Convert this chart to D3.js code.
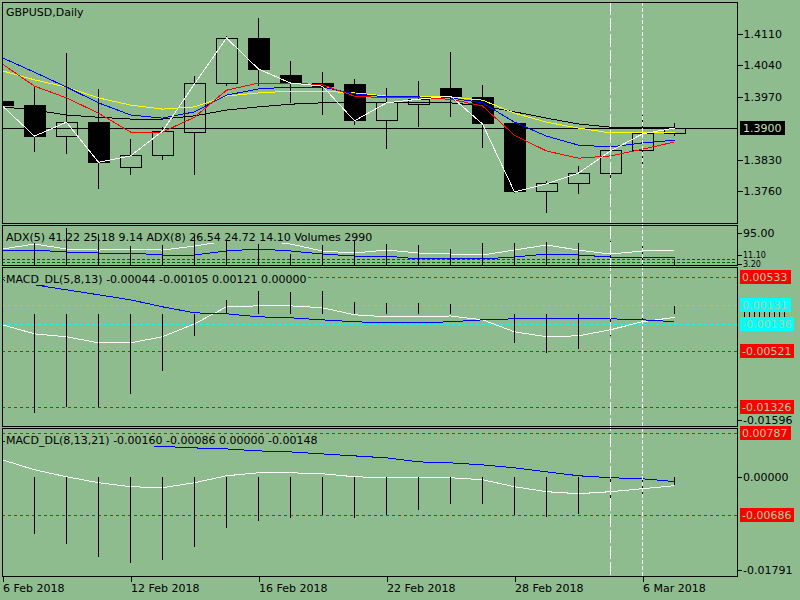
<!DOCTYPE html>
<html>
<head>
<meta charset="utf-8">
<title>GBPUSD,Daily</title>
<script src="https://d3js.org/d3.v7.min.js"></script>
<style>
  body { margin: 0; background: #8FBC8F; }
  svg { display: block; font-family: "DejaVu Sans", sans-serif; font-size: 11px; }
</style>
</head>
<body>
<div id="chart"></div>
<script>
// ---- data ----
const dates = ["2018-02-06","2018-02-07","2018-02-08","2018-02-09","2018-02-12","2018-02-13",
  "2018-02-14","2018-02-15","2018-02-16","2018-02-19","2018-02-20","2018-02-21","2018-02-22",
  "2018-02-23","2018-02-26","2018-02-27","2018-02-28","2018-03-01","2018-03-02","2018-03-05",
  "2018-03-06","2018-03-07"];
const dateTicks = ["2018-02-06","2018-02-12","2018-02-16","2018-02-22","2018-02-28","2018-03-06"];
const markerDates = ["2018-03-05","2018-03-06"];

const openP  = [1.3960,1.3949,1.3882,1.3913,1.3813,1.3838,1.3891,1.3998,1.4100,1.4016,1.4000,
                1.3996,1.3916,1.3953,1.3987,1.3967,1.3911,1.3760,1.3776,1.3798,1.3851,1.3887];
const highP  = [1.3965,1.3993,1.4067,1.3987,1.3876,1.3902,1.4016,1.4104,1.4144,1.4049,1.4024,
                1.4009,1.3989,1.4004,1.4069,1.3996,1.3911,1.3782,1.3816,1.3860,1.3929,1.3911];
const lowP   = [1.3944,1.3847,1.3842,1.3764,1.3796,1.3829,1.3796,1.3993,1.3993,1.3956,1.3929,
                1.3907,1.3853,1.3902,1.3924,1.3856,1.3756,1.3711,1.3753,1.3764,1.3813,1.3882];
const closeP = [1.3949,1.3882,1.3913,1.3824,1.3838,1.3893,1.3998,1.4100,1.4031,1.4000,1.3993,
                1.3916,1.3956,1.3964,1.3971,1.3909,1.3758,1.3776,1.3800,1.3849,1.3887,1.3900];

const maRed    = [1.4042,1.3993,1.3967,1.3933,1.3891,1.3891,1.3924,1.3984,1.4000,1.4000,1.3996,
                  1.3971,1.3967,1.3967,1.3964,1.3949,1.3884,1.3849,1.3833,1.3838,1.3853,1.3869];
const maBlue   = [1.4056,1.4024,1.3991,1.3956,1.3929,1.3922,1.3936,1.3973,1.3987,1.3991,1.3991,
                  1.3976,1.3969,1.3969,1.3967,1.3956,1.3913,1.3882,1.3862,1.3858,1.3867,1.3873];
const maYellow = [1.4027,1.4007,1.3991,1.3967,1.3951,1.3942,1.3947,1.3971,1.3978,1.3982,1.3982,
                  1.3978,1.3971,1.3971,1.3969,1.3962,1.3933,1.3913,1.3900,1.3889,1.3889,1.3889];
const maBlack  = [1.3947,1.3940,1.3929,1.3924,1.3920,1.3920,1.3927,1.3940,1.3947,1.3953,1.3956,
                  1.3956,1.3956,1.3956,1.3956,1.3949,1.3936,1.3922,1.3909,1.3902,1.3902,1.3902];
const priceTicks = [1.4110, 1.4040, 1.3970, 1.3830, 1.3760];

const volumes  = [12000,13150,22100,18500,11350,11950,17900,14350,12550,6600,11950,
                  14300,12550,11950,9550,13150,13150,13750,13150,14350,11350,2990];
const adxMain  = [44.3,60.1,44.3,41.0,44.3,41.0,53.8,69.6,72.7,60.1,38.0,
                  31.6,41.0,31.6,28.5,25.3,41.0,57.0,41.0,28.5,38.0,41.2];
const adxOther = [41.0,41.0,34.8,31.6,31.6,25.3,25.3,38.0,44.3,38.0,28.5,
                  22.1,22.1,12.7,12.7,12.7,19.0,28.5,25.3,19.0,19.0,19.0];
const adxLevels = [11.1, 3.2];
const adxTicks = [95];

const m1Main   = [-0.00150,-0.00279,-0.00321,-0.00407,-0.00407,-0.00321,-0.00136,0.00107,0.00121,0.00121,0.00093,
                  -0.00007,-0.00036,-0.00036,-0.00024,-0.00079,-0.00250,-0.00321,-0.00307,-0.00221,-0.00106,-0.00044];
const m1Signal = [0.00493,0.00421,0.00350,0.00279,0.00207,0.00107,0.00021,0.00007,-0.00036,-0.00050,-0.00079,
                  -0.00107,-0.00121,-0.00121,-0.00107,-0.00079,-0.00064,-0.00064,-0.00064,-0.00064,-0.00079,-0.00105];
const m1Hist   = [-0.01290,-0.01407,-0.01321,-0.01321,-0.01136,-0.00807,-0.00307,0.00207,0.00336,0.00321,0.00336,
                  0.00179,0.00164,0.00164,0.00150,0.00000,-0.00407,-0.00550,-0.00493,-0.00307,-0.00060,0.00121];
const m1RedLevels  = [0.00533, -0.00521, -0.01326];
const m1CyanLevels = [0.00131, -0.00136];
const m1Range = [-0.01596, 0.00533];

const m2Main   = [0.00307,0.00128,0.00002,-0.00106,-0.00178,-0.00196,-0.00106,0.00020,0.00074,0.00074,0.00056,
                  0.00002,-0.00016,-0.00016,-0.00016,-0.00052,-0.00178,-0.00268,-0.00304,-0.00268,-0.00214,-0.00160];
const m2Signal = [0.00648,0.00631,0.00613,0.00595,0.00577,0.00550,0.00523,0.00505,0.00469,0.00451,0.00415,
                  0.00379,0.00343,0.00271,0.00253,0.00217,0.00163,0.00092,0.00020,-0.00016,-0.00034,-0.00086];
const m2Hist   = [-0.00680,-0.01040,-0.01220,-0.01453,-0.01560,-0.01507,-0.01274,-0.00932,-0.00789,-0.00735,-0.00681,
                  -0.00735,-0.00681,-0.00591,-0.00483,-0.00483,-0.00681,-0.00717,-0.00663,-0.00501,-0.00321,-0.00148];
const m2RedLevels = [0.00787, -0.00686];
const m2Range = [-0.01791, 0.00787];

// ---- layout ----
const W = 800, H = 600;
const bg = "#8FBC8F";
const boxText = "#A9CFA4";
const left = 2, right = 737;
const main = [2, 223], adxP = [225, 265], p1 = [267, 426], p2 = [428, 576];

const svg = d3.select("#chart").append("svg")
  .attr("width", W).attr("height", H)
  .style("background", bg)
  .attr("shape-rendering", "crispEdges");

const x = d3.scalePoint().domain(dates).range([2.5, 674.5]);
const yPrice = d3.scaleLinear().domain([1.3689, 1.4180]).range([main[1], main[0]]);
const yAdx = d3.scaleLinear().domain([0, 95]).range([263, 233]);
const yVol = d3.scaleLinear().domain([0, d3.max(volumes)]).range([adxP[1], 228]);
const yM1 = d3.scaleLinear().domain(m1Range).range([p1[1], 277]);
const yM2 = d3.scaleLinear().domain(m2Range).range([p2[1], 433.3]);
const snap = v => Math.round(v) + 0.5;

const defs = svg.append("defs");
function panel(id, p) {
  defs.append("clipPath").attr("id", id).append("rect")
    .attr("x", left).attr("y", p[0]).attr("width", right - left).attr("height", p[1] - p[0]);
  return svg.append("g").attr("clip-path", `url(#${id})`);
}
function drawLine(g, ys, vals, color) {
  g.append("path")
    .attr("d", d3.line().x((d, i) => x(dates[i])).y(d => ys(d))(vals))
    .attr("fill", "none").attr("stroke", color).attr("stroke-width", 1);
}
function hLevel(g, ys, v, color, dash) {
  g.append("line").attr("x1", left).attr("x2", right)
    .attr("y1", snap(ys(v))).attr("y2", snap(ys(v)))
    .attr("stroke", color).attr("stroke-dasharray", dash);
}
function title(g, txt, base) {
  const r = g.append("rect").attr("fill", bg);
  const t = g.append("text").attr("x", 6).attr("y", base).text(txt);
  const w = t.node().getComputedTextLength();
  r.attr("x", 5).attr("y", base - 10).attr("width", w + 2).attr("height", 11.5);
}
function boxLabel(v, ys, fill) {
  const yy = ys(v);
  const r = svg.append("rect").attr("fill", fill);
  const t = svg.append("text").attr("x", 742).attr("y", yy).attr("dy", "0.35em")
    .attr("fill", boxText).text(v.toFixed(5));
  const w = t.node().getComputedTextLength();
  r.attr("x", 740).attr("y", yy - 7).attr("width", w + 5).attr("height", 14);
}
function plainLabel(v, yy, txt, size) {
  svg.append("line").attr("x1", right).attr("x2", right + 5)
    .attr("y1", snap(yy)).attr("y2", snap(yy)).attr("stroke", "#000");
  svg.append("text").attr("x", 743).attr("y", yy).attr("dy", "0.35em")
    .attr("font-size", size || null).text(txt);
}

// ---- main price panel ----
const gm = panel("clipMain", main);
const candles = dates.map((d, i) => ({ d, o: openP[i], h: highP[i], l: lowP[i], c: closeP[i] }));
gm.selectAll(".wick").data(candles).enter().append("line")
  .attr("x1", c => x(c.d)).attr("x2", c => x(c.d))
  .attr("y1", c => yPrice(c.h)).attr("y2", c => yPrice(c.l))
  .attr("stroke", "#000");
gm.selectAll(".body").data(candles).enter().append("rect")
  .attr("x", c => x(c.d) - 10.5).attr("width", 21)
  .attr("y", c => yPrice(Math.max(c.o, c.c)))
  .attr("height", c => Math.max(1, Math.abs(yPrice(c.o) - yPrice(c.c))))
  .attr("fill", c => c.c >= c.o ? bg : "#000")
  .attr("stroke", "#000");
hLevel(gm, yPrice, closeP[closeP.length - 1], "#000", null);
drawLine(gm, yPrice, maBlack, "#000000");
drawLine(gm, yPrice, maYellow, "#FFFF00");
drawLine(gm, yPrice, maBlue, "#0000FF");
drawLine(gm, yPrice, maRed, "#FF0000");
drawLine(gm, yPrice, closeP, "#FFFFFF");
title(gm, "GBPUSD,Daily", 16);

svg.append("g").attr("transform", `translate(${right + 0.5},0)`)
  .call(d3.axisRight(yPrice).tickValues(priceTicks).tickSize(5).tickPadding(1).tickFormat(d => d.toFixed(4)))
  .call(g => g.select(".domain").remove())
  .attr("font-family", "DejaVu Sans").attr("font-size", 11);
{
  const yy = yPrice(closeP[closeP.length - 1]);
  const r = svg.append("rect").attr("fill", "#000");
  const t = svg.append("text").attr("x", 743).attr("y", yy).attr("dy", "0.35em")
    .attr("fill", "#C4E0BE").text(closeP[closeP.length - 1].toFixed(4));
  r.attr("x", 740).attr("y", yy - 7).attr("width", t.node().getComputedTextLength() + 6).attr("height", 14);
}

// ---- ADX / volumes panel ----
const ga = panel("clipAdx", adxP);
adxLevels.forEach(v => hLevel(ga, yAdx, v, "#006400", "3,2"));
drawLine(ga, yAdx, adxOther, "#0000FF");
drawLine(ga, yAdx, adxMain, "#FFFFFF");
title(ga, "ADX(5) 41.22 25.18 9.14 ADX(8) 26.54 24.72 14.10 Volumes 2990", 241);
ga.selectAll(".vol").data(volumes).enter().append("line")
  .attr("x1", (v, i) => x(dates[i])).attr("x2", (v, i) => x(dates[i]))
  .attr("y1", yVol(0)).attr("y2", v => yVol(v))
  .attr("stroke", "#000");
adxTicks.forEach(v => plainLabel(v, yAdx(v), v.toFixed(2)));
// the two low levels sit 3px apart: stack their labels just above and below
plainLabel(adxLevels[0], yAdx(adxLevels[0]) - 4, adxLevels[0].toFixed(2), 8);
plainLabel(adxLevels[1], yAdx(adxLevels[1]) + 2, adxLevels[1].toFixed(2), 8);

// ---- MACD_DL(5,8,13) ----
const g1 = panel("clipM1", p1);
m1RedLevels.forEach(v => hLevel(g1, yM1, v, "#FF0000", "3,3"));
m1CyanLevels.forEach(v => hLevel(g1, yM1, v, "#00FFFF", "3,3"));
drawLine(g1, yM1, m1Main, "#FFFFFF");
drawLine(g1, yM1, m1Signal, "#0000FF");
g1.selectAll(".hist").data(m1Hist).enter().append("line")
  .attr("x1", (v, i) => x(dates[i])).attr("x2", (v, i) => x(dates[i]))
  .attr("y1", yM1(0)).attr("y2", v => yM1(v))
  .attr("stroke", "#000");
title(g1, "MACD_DL(5,8,13) -0.00044 -0.00105 0.00121 0.00000", 283);
m1RedLevels.forEach(v => boxLabel(v, yM1, "#FF0000"));
m1CyanLevels.forEach(v => boxLabel(v, yM1, "#00FFFF"));
d3.range(9).forEach(k => svg.append("line")
  .attr("x1", 744.5 + k * 5).attr("x2", 744.5 + k * 5)
  .attr("y1", yM1(0) - 2).attr("y2", yM1(0) + 3).attr("stroke", "#000"));
plainLabel(m1Range[0], p1[1] - 6, m1Range[0].toFixed(5));

// ---- MACD_DL(8,13,21) ----
const g2 = panel("clipM2", p2);
m2RedLevels.forEach(v => hLevel(g2, yM2, v, "#FF0000", "3,3"));
drawLine(g2, yM2, m2Main, "#FFFFFF");
drawLine(g2, yM2, m2Signal, "#0000FF");
g2.selectAll(".hist").data(m2Hist).enter().append("line")
  .attr("x1", (v, i) => x(dates[i])).attr("x2", (v, i) => x(dates[i]))
  .attr("y1", yM2(0)).attr("y2", v => yM2(v))
  .attr("stroke", "#000");
title(g2, "MACD_DL(8,13,21) -0.00160 -0.00086 0.00000 -0.00148", 444);
m2RedLevels.forEach(v => boxLabel(v, yM2, "#FF0000"));
plainLabel(0, yM2(0), (0).toFixed(5));
plainLabel(m2Range[0], p2[1] - 6, m2Range[0].toFixed(5));

// ---- vertical marker lines over all panels ----
const dashes = ["13,3", "4,2"];
markerDates.forEach((d, k) => svg.append("line")
  .attr("x1", x(d)).attr("x2", x(d)).attr("y1", main[0]).attr("y2", p2[1])
  .attr("stroke", "#FFFFFF").attr("stroke-dasharray", dashes[k]));

// ---- frames ----
[main, adxP, p1, p2].forEach(p => svg.append("rect")
  .attr("x", left + 0.5).attr("y", p[0] + 0.5)
  .attr("width", right - left).attr("height", p[1] - p[0])
  .attr("fill", "none").attr("stroke", "#000"));

// ---- date axis ----
const parse = d3.timeParse("%Y-%m-%d");
const fmt = d3.timeFormat("%-d %b %Y");
svg.append("g").attr("transform", `translate(0,${p2[1] + 0.5})`)
  .call(d3.axisBottom(x).tickValues(dateTicks).tickSize(5).tickFormat(d => fmt(parse(d))))
  .call(g => g.select(".domain").remove())
  .call(g => g.selectAll("text").attr("text-anchor", "start").attr("y", 8).attr("dy", "0.71em"))
  .attr("font-family", "DejaVu Sans").attr("font-size", 11);
</script>
</body>
</html>
